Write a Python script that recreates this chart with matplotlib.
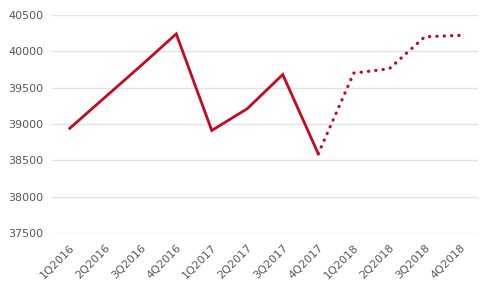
import numpy as np
import matplotlib
matplotlib.use("Agg")
import matplotlib.pyplot as plt

quarters = ["1Q2016", "2Q2016", "3Q2016", "4Q2016",
            "1Q2017", "2Q2017", "3Q2017", "4Q2017",
            "1Q2018", "2Q2018", "3Q2018", "4Q2018"]
actual = [38940, 39370, 39800, 40240, 38910, 39210, 39680, 38590]
forecast = [38590, 39700, 39760, 40200, 40220]  # starts at 4Q2017

fig = plt.figure(figsize=(5, 2.83), dpi=100)
ax = fig.add_axes([0.104, 0.177, 0.852, 0.770])

x = np.arange(len(quarters))
red = "#c40a22"
ax.plot(x[:len(actual)], actual, color=red, lw=2, solid_joinstyle="miter")
ax.plot(x[len(actual) - 1:], forecast, color=red, lw=2.3,
        linestyle=(0, (0.1, 2.2)), dash_capstyle="round")

ax.set_xlim(-0.5, len(quarters) - 0.5)
ax.set_ylim(37500, 40500)
ax.set_yticks(np.arange(37500, 40501, 500))
ax.set_xticks(x)
ax.set_xticklabels(quarters, rotation=45, ha="right", rotation_mode="anchor")
ax.grid(axis="y", color="#e3e3e3", lw=1)
ax.set_axisbelow(True)
for s in ax.spines.values():
    s.set_visible(False)
ax.tick_params(length=0, labelsize=8, labelcolor="#595959")
ax.tick_params(axis="x", pad=7)
ax.tick_params(axis="y", pad=6)

fig.savefig("out.png")
